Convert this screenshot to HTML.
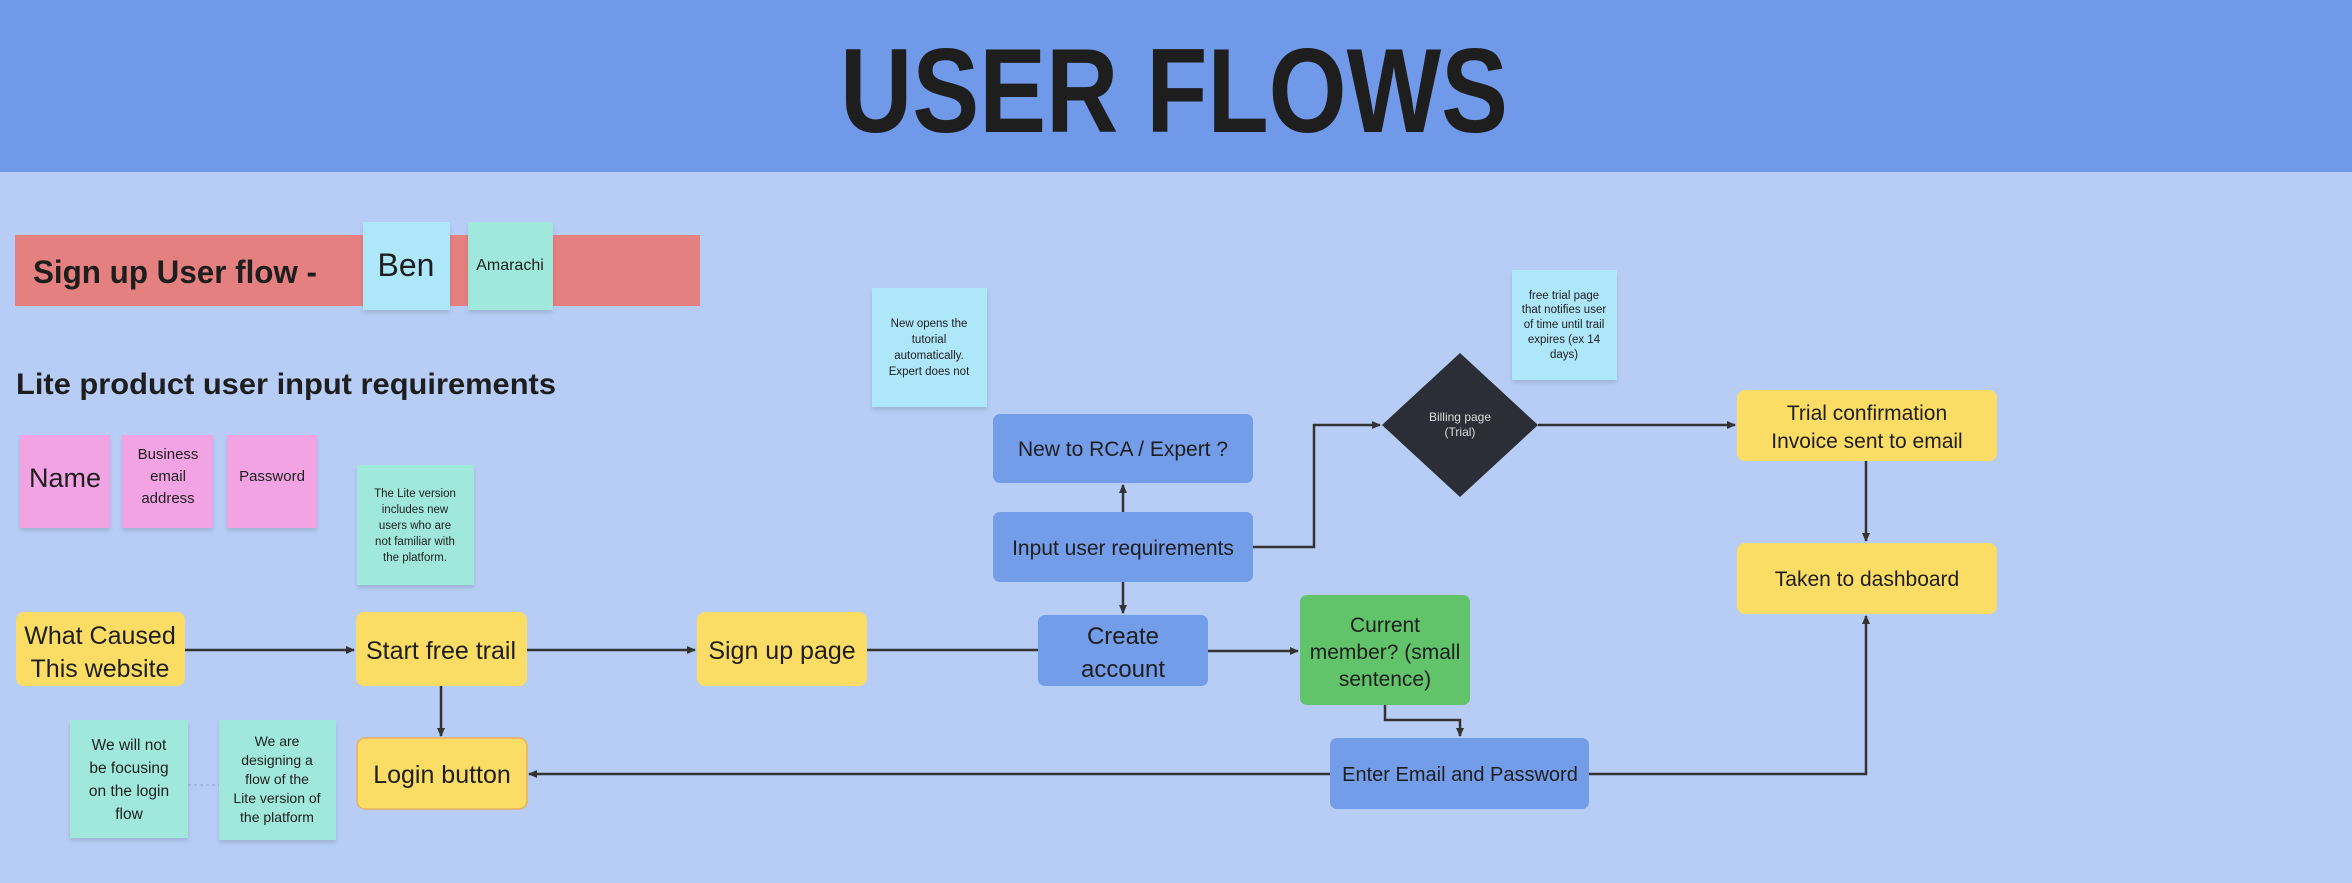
<!DOCTYPE html>
<html><head><meta charset="utf-8"><style>
html,body{margin:0;padding:0}
body{width:2352px;height:878px;background:#b7cdf5;font-family:"Liberation Sans",sans-serif;overflow:hidden}
</style></head><body>
<svg width="2352" height="878" xmlns="http://www.w3.org/2000/svg" font-family="Liberation Sans, sans-serif">
<defs>
<marker id="a" markerWidth="10" markerHeight="10" refX="8" refY="5" orient="auto" markerUnits="userSpaceOnUse"><path d="M0,1 L9,5 L0,9 z" fill="#333"/></marker>
<filter id="s" x="-10%" y="-10%" width="130%" height="130%"><feDropShadow dx="0" dy="3" stdDeviation="2" flood-color="#000" flood-opacity="0.12"/></filter>
</defs>
<rect x="0" y="0" width="2352" height="172" fill="#7099e9"/>
<text x="840" y="132" font-size="120" font-weight="bold" fill="#1e1e1e" textLength="668" lengthAdjust="spacingAndGlyphs">USER FLOWS</text>

<rect x="15" y="235" width="685" height="71" fill="#e58080"/>
<text x="33" y="283" font-size="32" font-weight="bold" fill="#1e1e1e" textLength="284" lengthAdjust="spacingAndGlyphs">Sign up User flow -</text>
<rect x="363" y="222" width="87" height="88" fill="#aee6fa" filter="url(#s)"/>
<text x="406" y="276" text-anchor="middle" font-size="32" fill="#1e1e1e">Ben</text>
<rect x="468" y="222" width="85" height="88" fill="#a0e8dc" filter="url(#s)"/>
<text x="510" y="270" text-anchor="middle" font-size="16" fill="#1e1e1e">Amarachi</text>

<text x="16" y="394" font-size="30" font-weight="bold" fill="#1e1e1e" textLength="540" lengthAdjust="spacingAndGlyphs">Lite product user input requirements</text>

<g filter="url(#s)">
<rect x="20" y="435" width="90" height="93" fill="#f1a3e3"/>
<rect x="122" y="435" width="91" height="93" fill="#f1a3e3"/>
<rect x="227" y="435" width="90" height="93" fill="#f1a3e3"/>
<rect x="357" y="465" width="117" height="120" fill="#a0e8dc"/>
<rect x="872" y="288" width="115" height="119" fill="#aee6fa"/>
<rect x="1512" y="270" width="105" height="110" fill="#aee6fa"/>
<rect x="70" y="720" width="118" height="118" fill="#a0e8dc"/>
<rect x="219" y="720" width="117" height="120" fill="#a0e8dc"/>
</g>
<text x="65" y="487" text-anchor="middle" font-size="27" fill="#1e1e1e">Name</text>
<g font-size="15" fill="#1e1e1e" text-anchor="middle">
<text x="168" y="459">Business</text><text x="168" y="481">email</text><text x="168" y="503">address</text>
<text x="272" y="481">Password</text>
</g>
<g font-size="11.5" fill="#1e1e1e" text-anchor="middle">
<text x="415" y="497">The Lite version</text><text x="415" y="513">includes new</text><text x="415" y="529">users who are</text><text x="415" y="545">not familiar with</text><text x="415" y="561">the platform.</text>
<text x="929" y="327">New opens the</text><text x="929" y="343">tutorial</text><text x="929" y="359">automatically.</text><text x="929" y="375">Expert does not</text>
<text x="1564" y="299">free trial page</text><text x="1564" y="313">that notifies user</text><text x="1564" y="328">of time until trail</text><text x="1564" y="343">expires (ex 14</text><text x="1564" y="358">days)</text>
</g>
<g font-size="15.5" fill="#1e1e1e" text-anchor="middle">
<text x="129" y="750">We will not</text><text x="129" y="773">be focusing</text><text x="129" y="796">on the login</text><text x="129" y="819">flow</text>
</g>
<g font-size="14" fill="#1e1e1e" text-anchor="middle">
<text x="277" y="746">We are</text><text x="277" y="765">designing a</text><text x="277" y="784">flow of the</text><text x="277" y="803">Lite version of</text><text x="277" y="822">the platform</text>
</g>
<line x1="188" y1="785" x2="219" y2="785" stroke="#8aa3cf" stroke-width="1" stroke-dasharray="3,3"/>

<g stroke="#333" stroke-width="2.5" fill="none">
<line x1="185" y1="650" x2="354" y2="650" marker-end="url(#a)"/>
<line x1="527" y1="650" x2="695" y2="650" marker-end="url(#a)"/>
<line x1="867" y1="650" x2="1038" y2="650"/>
<line x1="1208" y1="651" x2="1298" y2="651" marker-end="url(#a)"/>
<line x1="1123" y1="582" x2="1123" y2="613" marker-end="url(#a)"/>
<line x1="1123" y1="512" x2="1123" y2="485" marker-end="url(#a)"/>
<polyline points="1253,547 1314,547 1314,425 1380,425" marker-end="url(#a)"/>
<line x1="1538" y1="425" x2="1735" y2="425" marker-end="url(#a)"/>
<line x1="1866" y1="461" x2="1866" y2="541" marker-end="url(#a)"/>
<polyline points="1385,705 1385,720 1460,720 1460,736" marker-end="url(#a)"/>
<line x1="1330" y1="774" x2="529" y2="774" marker-end="url(#a)"/>
<polyline points="1589,774 1866,774 1866,616" marker-end="url(#a)"/>
<line x1="441" y1="686" x2="441" y2="736" marker-end="url(#a)"/>
</g>

<rect x="16" y="612" width="169" height="74" rx="8" fill="#fbdd66"/>
<text x="100" y="644" text-anchor="middle" font-size="25" fill="#1e1e1e">What Caused</text>
<text x="100" y="677" text-anchor="middle" font-size="25" fill="#1e1e1e">This website</text>
<rect x="356" y="612" width="171" height="74" rx="8" fill="#fbdd66"/>
<text x="441" y="659" text-anchor="middle" font-size="25" fill="#1e1e1e">Start free trail</text>
<rect x="697" y="612" width="170" height="74" rx="8" fill="#fbdd66"/>
<text x="782" y="659" text-anchor="middle" font-size="25" fill="#1e1e1e">Sign up page</text>
<rect x="357" y="738" width="170" height="71" rx="8" fill="#fbdd66" stroke="#e8b060" stroke-width="1.5"/>
<text x="442" y="783" text-anchor="middle" font-size="25" fill="#1e1e1e">Login button</text>

<rect x="1038" y="615" width="170" height="71" rx="7" fill="#739ce9"/>
<text x="1123" y="644" text-anchor="middle" font-size="24" fill="#1e1e1e">Create</text>
<text x="1123" y="677" text-anchor="middle" font-size="24" fill="#1e1e1e">account</text>
<rect x="993" y="512" width="260" height="70" rx="7" fill="#739ce9"/>
<text x="1123" y="555" text-anchor="middle" font-size="21" fill="#1e1e1e">Input user requirements</text>
<rect x="993" y="414" width="260" height="69" rx="7" fill="#739ce9"/>
<text x="1123" y="456" text-anchor="middle" font-size="21" fill="#1e1e1e">New to RCA / Expert ?</text>

<polygon points="1460,353 1538,425 1460,497 1382,425" fill="#2b2e36"/>
<text x="1460" y="421" text-anchor="middle" font-size="12" fill="#ddd">Billing page</text>
<text x="1460" y="436" text-anchor="middle" font-size="12" fill="#ddd">(Trial)</text>

<rect x="1737" y="390" width="260" height="71" rx="8" fill="#fbdd66"/>
<text x="1867" y="420" text-anchor="middle" font-size="21" fill="#1e1e1e">Trial confirmation</text>
<text x="1867" y="448" text-anchor="middle" font-size="21" fill="#1e1e1e">Invoice sent to email</text>
<rect x="1737" y="543" width="260" height="71" rx="8" fill="#fbdd66"/>
<text x="1867" y="586" text-anchor="middle" font-size="21" fill="#1e1e1e">Taken to dashboard</text>

<rect x="1300" y="595" width="170" height="110" rx="7" fill="#62c46a"/>
<text x="1385" y="632" text-anchor="middle" font-size="21" fill="#1e1e1e">Current</text>
<text x="1385" y="659" text-anchor="middle" font-size="21" fill="#1e1e1e">member? (small</text>
<text x="1385" y="686" text-anchor="middle" font-size="21" fill="#1e1e1e">sentence)</text>
<rect x="1330" y="738" width="259" height="71" rx="7" fill="#739ce9"/>
<text x="1460" y="781" text-anchor="middle" font-size="20" fill="#1e1e1e">Enter Email and Password</text>
</svg>
</body></html>
